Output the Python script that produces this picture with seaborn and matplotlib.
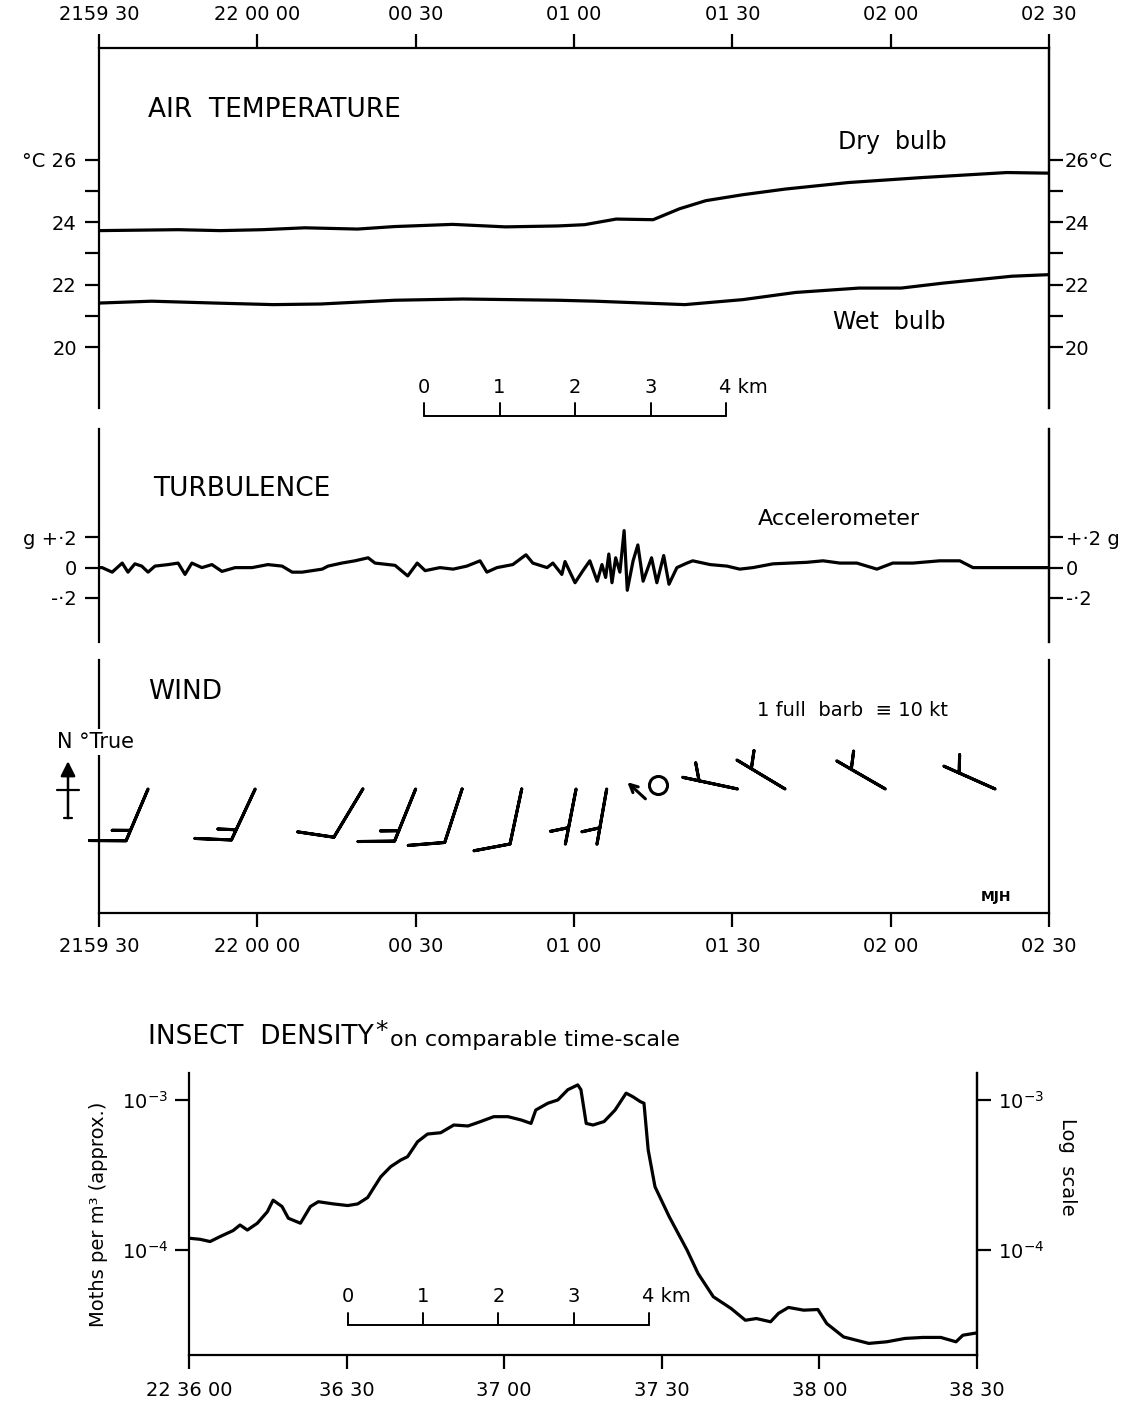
import numpy as np
import pandas as pd
import matplotlib
matplotlib.use("Agg")
import matplotlib.pyplot as plt
import matplotlib.transforms as mtransforms
from matplotlib.ticker import FixedLocator, NullLocator
import seaborn as sns

# --- values (time in s after 21 59 30 / 22 36 00) ---
time_ticks = [0, 30, 60, 90, 120, 150, 180]
time_labels = ["2159 30", "22 00 00", "00 30", "01 00", "01 30", "02 00", "02 30"]

dry_time = [0, 15, 23, 31, 39, 49, 56, 67, 77, 87, 92, 98, 105, 110, 115, 122, 130, 142, 156, 172, 180]
dry_bulb = [23.73, 23.76, 23.73, 23.76, 23.82, 23.78, 23.86, 23.93, 23.85, 23.88, 23.92, 24.10,
            24.08, 24.43, 24.69, 24.88, 25.06, 25.27, 25.43, 25.59, 25.57]
wet_time = [0, 10, 22, 33, 42, 56, 69, 87, 94, 111, 122, 132, 144, 152, 160, 173, 180]
wet_bulb = [21.41, 21.47, 21.41, 21.36, 21.38, 21.50, 21.54, 21.50, 21.47, 21.36, 21.52, 21.75,
            21.89, 21.89, 22.05, 22.27, 22.32]

turb_time = [0, 0.6, 2.5, 4.4, 5.5, 6.8, 8.1, 9.3, 10.6, 13.1, 15.0, 16.3, 17.6, 19.5, 21.4, 23.3,
             25.8, 29.0, 32.0, 34.7, 36.6, 38.5, 42.3, 43.4, 46.0, 48.5, 51.0, 52.3, 56.1, 58.5,
             60.3, 61.8, 64.6, 67.1, 69.7, 72.2, 73.5, 75.4, 78.4, 80.9, 82.2, 84.9, 86.0, 87.7,
             88.3, 90.2, 91.7, 93.0, 94.4, 95.3, 96.0, 96.6, 97.2, 97.9, 98.7, 99.5, 100.1, 101.2,
             102.1, 103.1, 104.7, 105.7, 107.0, 108.0, 109.5, 111.4, 112.5, 115.8, 119.0, 121.4,
             123.9, 127.7, 134.1, 137.2, 140.4, 143.6, 147.4, 150.4, 154.2, 159.3, 163.1, 165.6,
             172.0, 180.0]
turb_g = [0, 0, -0.03, 0.03, -0.03, 0.025, 0.01, -0.03, 0.01, 0.02, 0.03, -0.045, 0.03, 0.0, 0.02,
          -0.025, 0.0, 0.0, 0.02, 0.01, -0.03, -0.03, -0.01, 0.01, 0.03, 0.045, 0.065, 0.03, 0.015,
          -0.055, 0.03, -0.02, 0.0, -0.01, 0.01, 0.045, -0.03, 0.0, 0.02, 0.085, 0.03, 0.0, 0.03,
          -0.045, 0.04, -0.10, -0.02, 0.045, -0.09, 0.02, -0.065, 0.09, -0.10, 0.065, -0.03, 0.245,
          -0.15, 0.045, 0.15, -0.09, 0.065, -0.10, 0.08, -0.11, 0.0, 0.03, 0.045, 0.02, 0.01, -0.01,
          0.0, 0.025, 0.035, 0.045, 0.03, 0.03, -0.01, 0.03, 0.03, 0.045, 0.045, 0.0, 0.0, 0.0]

wind_time = [9.3, 29.6, 50.0, 60.0, 68.8, 80.1, 90.4, 96.2, 121.0, 130.0, 149.0, 169.8]
wind_dir = [203, 205, 211, 202, 198, 192, 191, 190, 282, 301, 300, 294]
wind_speed = [15, 15, 10, 15, 10, 10, 5, 5, 5, 5, 5, 5]
calm_time = 105.9

insect_ticks = [0, 30, 60, 90, 120, 150]
insect_labels = ["22 36 00", "36 30", "37 00", "37 30", "38 00", "38 30"]
insect_time = [0, 2.1, 4.0, 5.9, 8.4, 9.7, 11.1, 13.0, 14.9, 16.0, 17.7, 18.9, 21.2, 23.1, 24.6,
               27.5, 30.2, 32.1, 34.0, 35.1, 36.5, 38.4, 40.3, 41.6, 43.5, 45.4, 47.9, 50.4, 53.1,
               55.5, 58.0, 60.7, 63.2, 65.1, 66.0, 68.3, 70.2, 72.1, 74.0, 74.6, 75.6, 76.9, 79.0,
               81.1, 83.2, 84.5, 85.9, 86.6, 87.4, 88.7, 91.4, 94.8, 96.9, 99.8, 103.2, 105.9,
               108.0, 110.7, 112.2, 114.1, 117.0, 119.7, 121.4, 124.6, 129.4, 132.8, 136.3, 139.7,
               143.1, 146.0, 147.3, 150.0]
insect_density = [1.20e-4, 1.18e-4, 1.14e-4, 1.23e-4, 1.35e-4, 1.47e-4, 1.36e-4, 1.51e-4, 1.80e-4,
                  2.15e-4, 1.95e-4, 1.63e-4, 1.51e-4, 1.95e-4, 2.10e-4, 2.03e-4, 1.98e-4, 2.03e-4,
                  2.24e-4, 2.58e-4, 3.08e-4, 3.60e-4, 3.98e-4, 4.19e-4, 5.27e-4, 5.93e-4, 6.05e-4,
                  6.81e-4, 6.71e-4, 7.18e-4, 7.74e-4, 7.74e-4, 7.36e-4, 6.98e-4, 8.57e-4, 9.51e-4,
                  1.00e-3, 1.17e-3, 1.26e-3, 1.17e-3, 6.98e-4, 6.81e-4, 7.18e-4, 8.57e-4, 1.11e-3,
                  1.05e-3, 9.75e-4, 9.51e-4, 4.65e-4, 2.64e-4, 1.67e-4, 1.00e-4, 6.98e-5, 4.89e-5,
                  4.08e-5, 3.41e-5, 3.50e-5, 3.33e-5, 3.79e-5, 4.15e-5, 3.98e-5, 4.02e-5, 3.24e-5,
                  2.64e-5, 2.39e-5, 2.45e-5, 2.58e-5, 2.62e-5, 2.62e-5, 2.45e-5, 2.71e-5, 2.81e-5]

km_marks = [0, 1, 2, 3, 4]
sec_per_km = 14.3

# --- style ---
sns.set_theme(style="ticks")
plt.rcParams["font.family"] = ["DejaVu Sans"]
plt.rcParams.update({
    "axes.linewidth": 1.6,
    "axes.edgecolor": "black",
    "xtick.major.width": 1.6, "ytick.major.width": 1.6,
    "ytick.minor.width": 1.6,
    "xtick.color": "black", "ytick.color": "black",
    "text.color": "black",
})
LW = 2.3
TICK = dict(direction="out", length=10, width=1.6, labelsize=14, colors="black")

fig = plt.figure(figsize=(11.26, 14.02), dpi=100)
ax_t = fig.add_axes([0.0879, 0.7090, 0.8437, 0.2568])
ax_g = fig.add_axes([0.0879, 0.5421, 0.8437, 0.1520])
ax_w = fig.add_axes([0.0879, 0.3488, 0.8437, 0.1805])
ax_i = fig.add_axes([0.1679, 0.0335, 0.6998, 0.2011])

for ax in (ax_t, ax_g, ax_w):
    ax.set_xlim(0, 180)


def scale_bar(ax, start, y_line, y_tick, y_text):
    trans = ax.get_xaxis_transform()
    xs = [start + k * sec_per_km for k in km_marks]
    ax.plot([xs[0], xs[-1]], [y_line, y_line], color="black", lw=1.4, transform=trans, clip_on=False)
    for k, x in zip(km_marks, xs):
        ax.plot([x, x], [y_line, y_tick], color="black", lw=1.4, transform=trans, clip_on=False)
        if k == km_marks[-1]:
            ax.annotate(f"{k} km", xy=(x, y_text), xycoords=trans, xytext=(-5, 0),
                        textcoords="offset points", ha="left", va="center", fontsize=14)
        else:
            ax.text(x, y_text, str(k), transform=trans, ha="center", va="center", fontsize=14)


# --- AIR TEMPERATURE ---
temp = pd.DataFrame({"t": dry_time, "dry": dry_bulb})
wet = pd.DataFrame({"t": wet_time, "wet": wet_bulb})
sns.lineplot(data=temp, x="t", y="dry", ax=ax_t, color="black", linewidth=LW, estimator=None)
sns.lineplot(data=wet, x="t", y="wet", ax=ax_t, color="black", linewidth=LW, estimator=None)
ax_t.set_ylim(18.05, 29.58)
ax_t.xaxis.tick_top()
ax_t.set_xticks(time_ticks, labels=time_labels)
ax_t.tick_params(axis="x", pad=7, **TICK)
ax_t.set_yticks([20, 22, 24, 26], labels=["20", "22", "24", "°C 26"])
ax_t.yaxis.set_minor_locator(FixedLocator([21, 23, 25]))
ax_t.tick_params(axis="y", which="both", pad=6, **TICK)
ax_t.spines["bottom"].set_visible(False)
ax_t.set_xlabel("")
ax_t.set_ylabel("")
sec_t = ax_t.secondary_yaxis("right")
sec_t.set_yticks([20, 22, 24, 26], labels=["20", "22", "24", "26°C"])
sec_t.yaxis.set_minor_locator(FixedLocator([21, 23, 25]))
sec_t.tick_params(axis="y", which="both", pad=1, **TICK)
ax_t.text(0.0516, 0.829, "AIR  TEMPERATURE", transform=ax_t.transAxes, fontsize=19, va="center")
ax_t.text(0.778, 0.738, "Dry  bulb", transform=ax_t.transAxes, fontsize=17, va="center")
ax_t.text(0.773, 0.240, "Wet  bulb", transform=ax_t.transAxes, fontsize=17, va="center")
scale_bar(ax_t, 61.6, -0.022, 0.014, 0.058)

# --- TURBULENCE ---
turb = pd.DataFrame({"t": turb_time, "g": turb_g})
sns.lineplot(data=turb, x="t", y="g", ax=ax_g, color="black", linewidth=LW, estimator=None)
ax_g.set_ylim(-0.492, 0.918)
ax_g.set_xticks([])
ax_g.set_yticks([-0.2, 0, 0.2], labels=["-·2", "0", "g +·2"])
ax_g.tick_params(axis="y", pad=6, **TICK)
for s in ("top", "bottom"):
    ax_g.spines[s].set_visible(False)
ax_g.set_xlabel("")
ax_g.set_ylabel("")
sec_g = ax_g.secondary_yaxis("right")
sec_g.set_yticks([-0.2, 0, 0.2], labels=["-·2", "0", "+·2 g"])
sec_g.tick_params(axis="y", pad=2, **TICK)
ax_g.text(0.0568, 0.716, "TURBULENCE", transform=ax_g.transAxes, fontsize=19, va="center")
ax_g.text(0.694, 0.577, "Accelerometer", transform=ax_g.transAxes, fontsize=16, va="center")

# --- WIND ---
spd = np.array(wind_speed, dtype=float)
rad = np.radians(wind_dir)
u = -spd * np.sin(rad)
v = -spd * np.cos(rad)
ax_w.barbs(wind_time, np.full(len(wind_time), 0.49), u, v, length=9, pivot="tip",
           linewidth=2.2, color="black",
           sizes=dict(height=0.6, spacing=0.2, width=0.5),
           barb_increments=dict(half=5, full=10, flag=50), clip_on=False)
ax_w.plot([calm_time], [0.506], marker="o", ms=13, mfc="none", mec="black", mew=2.2, ls="none")
tip = ax_w.transData + mtransforms.ScaledTranslation(-22 / 72, 2 / 72, fig.dpi_scale_trans)
tail = ax_w.transData + mtransforms.ScaledTranslation(-9 / 72, -10 / 72, fig.dpi_scale_trans)
ax_w.annotate("", xy=(calm_time, 0.506), xycoords=tip, xytext=(calm_time, 0.506), textcoords=tail,
              arrowprops=dict(arrowstyle="->", lw=2.2, color="black", shrinkA=0, shrinkB=0,
                              mutation_scale=14))
ax_w.set_ylim(0, 1)
ax_w.set_yticks([])
ax_w.set_xticks(time_ticks, labels=time_labels)
ax_w.tick_params(axis="x", pad=7, **TICK)
ax_w.spines["top"].set_visible(False)
ax_w.text(0.0516, 0.874, "WIND", transform=ax_w.transAxes, fontsize=19, va="center")
ax_w.text(0.693, 0.802, "1 full  barb  \u2261 10 kt", transform=ax_w.transAxes, fontsize=14, va="center")
ax_w.text(-0.0442, 0.676, "N °True", transform=ax_w.transAxes, fontsize=15, va="center",
          bbox=dict(facecolor="white", edgecolor="none", pad=2), zorder=5)
ax_w.annotate("", xy=(-0.0326, 0.60), xycoords="axes fraction", xytext=(-0.0326, 0.375),
              arrowprops=dict(arrowstyle="-|>", lw=1.8, color="black", mutation_scale=22,
                              shrinkA=0, shrinkB=0), annotation_clip=False)
ax_w.plot([-0.044, -0.021], [0.486, 0.486], transform=ax_w.transAxes, color="black", lw=1.6, clip_on=False)
ax_w.plot([-0.037, -0.028], [0.375, 0.375], transform=ax_w.transAxes, color="black", lw=1.6, clip_on=False)
ax_w.text(0.944, 0.063, "MJH", transform=ax_w.transAxes, fontsize=10, fontweight="bold",
          ha="center", va="center")

# --- INSECT DENSITY ---
ins = pd.DataFrame({"t": insect_time, "n": insect_density})
ax_i.set_yscale("log")
sns.lineplot(data=ins, x="t", y="n", ax=ax_i, color="black", linewidth=LW, estimator=None)
ax_i.set_xlim(0, 150)
ax_i.set_ylim(2.0e-5, 1.51e-3)
ax_i.set_xticks(insect_ticks, labels=insect_labels)
ax_i.tick_params(axis="x", pad=9, **TICK)
ax_i.set_yticks([1e-4, 1e-3], labels=[r"$10^{-4}$", r"$10^{-3}$"])
ax_i.yaxis.set_minor_locator(NullLocator())
ax_i.tick_params(axis="y", which="major", pad=5, **TICK)
ax_i.tick_params(axis="y", which="minor", length=0)
ax_i.spines["top"].set_visible(False)
ax_i.set_xlabel("")
ax_i.set_ylabel("Moths per m³ (approx.)", fontsize=14, labelpad=10, color="black")
sec_i = ax_i.secondary_yaxis("right")
sec_i.set_yticks([1e-4, 1e-3], labels=[r"$10^{-4}$", r"$10^{-3}$"])
sec_i.yaxis.set_minor_locator(NullLocator())
sec_i.tick_params(axis="y", which="major", pad=5, **TICK)
sec_i.tick_params(axis="y", which="minor", length=0)
ax_i.text(1.115, 0.667, "Log  scale", transform=ax_i.transAxes, fontsize=14, rotation=270,
          ha="center", va="center")
scale_bar(ax_i, 30.3, 0.106, 0.149, 0.206)

t1 = fig.text(0.1314, 0.2603, "INSECT  DENSITY", fontsize=19, va="center")
star = ax_i.annotate("*", xy=(1, 0.75), xycoords=t1, xytext=(1, 0), textcoords="offset points",
                     ha="left", va="center", fontsize=18)
ax_i.annotate("on comparable time-scale", xy=(1, 0.02), xycoords=t1, xytext=(12, 0),
              textcoords="offset points", ha="left", va="bottom", fontsize=16)

fig.savefig("out.png", dpi=100, facecolor="white")
